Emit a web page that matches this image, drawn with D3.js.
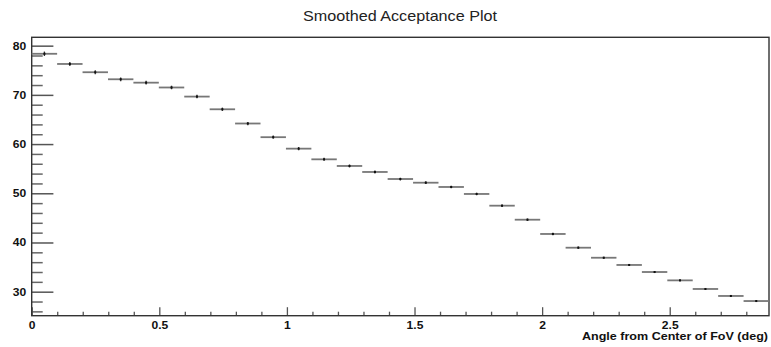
<!DOCTYPE html>
<html>
<head>
<meta charset="utf-8">
<script src="https://cdn.jsdelivr.net/npm/d3@7/dist/d3.min.js"></script>
<style>
  html, body { margin: 0; padding: 0; background: #fff; }
  svg { display: block; }
  text { font-family: "Liberation Sans", Arial, Helvetica, sans-serif; }
</style>
</head>
<body>
<script>
// Smoothed acceptance vs. angle from the centre of the field of view
const chartTitle = "Smoothed Acceptance Plot";
const xTitle = "Angle from Center of FoV (deg)";

// histogram contents: one value per angular bin (29 bins from 0 to xMax)
const acceptance = [78.35, 76.28, 74.6, 73.17, 72.48, 71.5, 69.65, 67.07, 64.18, 61.4,
                    59.07, 56.9, 55.55, 54.33, 52.9, 52.15, 51.28, 49.86, 47.48, 44.63,
                    41.73, 38.94, 36.9, 35.43, 34.0, 32.3, 30.55, 29.13, 28.1];
const acceptanceErr = [0.45, 0.42, 0.4, 0.38, 0.37, 0.36, 0.35, 0.34, 0.33, 0.32,
                       0.31, 0.3, 0.3, 0.29, 0.28, 0.28, 0.27, 0.26, 0.26, 0.25,
                       0.24, 0.23, 0.22, 0.22, 0.21, 0.2, 0.2, 0.19, 0.19];
const xMin = 0, xMax = 2.889;
const yMin = 25.12, yMax = 81.7;

const xMajorTicks = [0, 0.5, 1, 1.5, 2, 2.5];
const xTickLabels = ["0", "0.5", "1", "1.5", "2", "2.5"];
const yMajorTicks = [30, 40, 50, 60, 70, 80];
const yTickLabels = ["30", "40", "50", "60", "70", "80"];

const W = 771, H = 347;
const frame = { left: 31.7, right: 769, top: 37.3, bottom: 315.7 };

const svg = d3.select("body").append("svg").attr("width", W).attr("height", H);

const x = d3.scaleLinear().domain([xMin, xMax]).range([frame.left, frame.right]);
const y = d3.scaleLinear().domain([yMin, yMax]).range([frame.bottom, frame.top]);

const binW = (xMax - xMin) / acceptance.length;
const bins = acceptance.map((v, i) => ({
  lo: xMin + i * binW, hi: xMin + (i + 1) * binW, c: xMin + (i + 0.5) * binW,
  v, e: acceptanceErr[i]
}));

// stretch text horizontally a little, as the ROOT canvas font is wide
function widen(sel, factor) {
  sel.each(function() {
    const len = this.getComputedTextLength();
    d3.select(this).attr("textLength", len * factor).attr("lengthAdjust", "spacingAndGlyphs");
  });
}

// title
svg.append("text")
  .attr("x", 400).attr("y", 20.5)
  .attr("text-anchor", "middle")
  .attr("font-size", 15).attr("fill", "#222")
  .text(chartTitle)
  .attr("textLength", 194).attr("lengthAdjust", "spacingAndGlyphs");

// minor ticks
const xMinor = d3.range(1, 29).map(i => i / 10).filter(v => !xMajorTicks.some(m => Math.abs(m - v) < 1e-6));
const yMinor = d3.range(26, 82, 2).filter(v => v % 10 !== 0);

svg.append("g")
  .attr("transform", `translate(0,${frame.bottom})`)
  .call(d3.axisBottom(x).tickValues(xMinor).tickSize(-4).tickSizeOuter(0).tickFormat(""))
  .call(g => g.select(".domain").remove())
  .call(g => g.selectAll(".tick line").attr("stroke", "#555").attr("stroke-width", 1.3));

svg.append("g")
  .attr("transform", `translate(${frame.left},0)`)
  .call(d3.axisLeft(y).tickValues(yMinor).tickSize(-11).tickSizeOuter(0).tickFormat(""))
  .call(g => g.select(".domain").remove())
  .call(g => g.selectAll(".tick line").attr("stroke", "#666").attr("stroke-width", 1.5));

// major ticks and labels
const xAxis = svg.append("g")
  .attr("transform", `translate(0,${frame.bottom})`)
  .call(d3.axisBottom(x).tickValues(xMajorTicks).tickSize(-8.5).tickSizeOuter(0)
        .tickPadding(6).tickFormat((d, i) => xTickLabels[i]));
xAxis.select(".domain").remove();
xAxis.selectAll(".tick line").attr("stroke", "#555").attr("stroke-width", 1.3);
xAxis.selectAll(".tick text")
  .attr("font-family", "Liberation Sans, Arial, sans-serif")
  .attr("font-size", 10.5).attr("font-weight", "bold").attr("fill", "#111")
  .call(widen, 1.15);

const yAxis = svg.append("g")
  .attr("transform", `translate(${frame.left},0)`)
  .call(d3.axisLeft(y).tickValues(yMajorTicks).tickSize(-21.7).tickSizeOuter(0)
        .tickPadding(5.5).tickFormat((d, i) => yTickLabels[i]));
yAxis.select(".domain").remove();
yAxis.selectAll(".tick line").attr("stroke", "#555").attr("stroke-width", 1.5);
yAxis.selectAll(".tick text")
  .attr("font-family", "Liberation Sans, Arial, sans-serif")
  .attr("font-size", 10.5).attr("font-weight", "bold").attr("fill", "#111")
  .call(widen, 1.15);

// frame
svg.append("rect")
  .attr("x", frame.left).attr("y", frame.top)
  .attr("width", frame.right - frame.left).attr("height", frame.bottom - frame.top)
  .attr("fill", "none").attr("stroke", "#333").attr("stroke-width", 1.4);

// histogram: horizontal bin bars, vertical error bars, centre markers
const hist = svg.append("g");
hist.selectAll("line.bin").data(bins).join("line")
  .attr("class", "bin")
  .attr("x1", d => x(d.lo)).attr("x2", d => x(d.hi))
  .attr("y1", d => y(d.v)).attr("y2", d => y(d.v))
  .attr("stroke", "#777").attr("stroke-width", 1.8);
hist.selectAll("line.err").data(bins).join("line")
  .attr("class", "err")
  .attr("x1", d => x(d.c)).attr("x2", d => x(d.c))
  .attr("y1", d => y(d.v - d.e)).attr("y2", d => y(d.v + d.e))
  .attr("stroke", "#333").attr("stroke-width", 1.3);
hist.selectAll("rect.mk").data(bins).join("rect")
  .attr("class", "mk")
  .attr("x", d => x(d.c) - 1).attr("y", d => y(d.v) - 1)
  .attr("width", 2).attr("height", 2)
  .attr("fill", "#111");

// x-axis title, right-aligned under the frame
svg.append("text")
  .attr("x", 768).attr("y", 340)
  .attr("text-anchor", "end")
  .attr("font-size", 10.5).attr("font-weight", "bold").attr("fill", "#111")
  .text(xTitle)
  .attr("textLength", 186).attr("lengthAdjust", "spacingAndGlyphs");
</script>
</body>
</html>
